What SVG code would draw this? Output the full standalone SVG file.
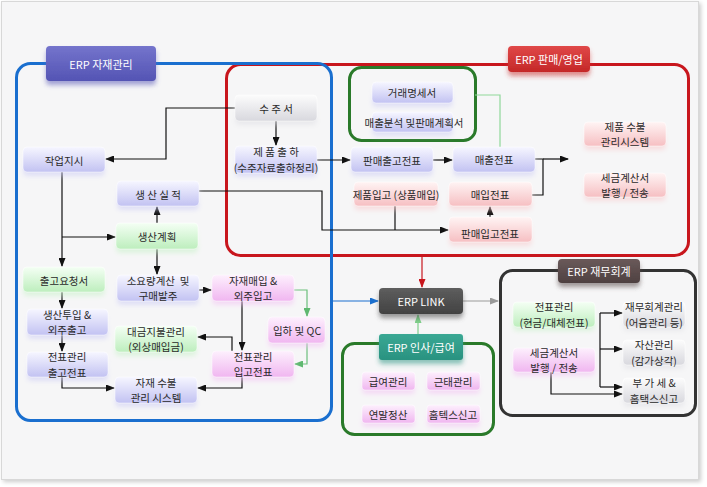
<svg xmlns="http://www.w3.org/2000/svg" width="707" height="487" viewBox="0 0 707 487">
<defs>
<linearGradient id="gB" x1="0" y1="0" x2="0" y2="1"><stop offset="0" stop-color="#f6f6ff"/><stop offset="1" stop-color="#c2c2f2"/></linearGradient>
<linearGradient id="gG" x1="0" y1="0" x2="0" y2="1"><stop offset="0" stop-color="#f4fff4"/><stop offset="1" stop-color="#bdeebd"/></linearGradient>
<linearGradient id="gR" x1="0" y1="0" x2="0" y2="1"><stop offset="0" stop-color="#fff4f4"/><stop offset="1" stop-color="#f6bfc2"/></linearGradient>
<linearGradient id="gM" x1="0" y1="0" x2="0" y2="1"><stop offset="0" stop-color="#fdf0fd"/><stop offset="1" stop-color="#f0b6f0"/></linearGradient>
<linearGradient id="gK" x1="0" y1="0" x2="0" y2="1"><stop offset="0" stop-color="#fcfcfc"/><stop offset="1" stop-color="#d8d8de"/></linearGradient>
<linearGradient id="lP" x1="0" y1="0" x2="0" y2="1"><stop offset="0" stop-color="#7474cc"/><stop offset="1" stop-color="#5454b4"/></linearGradient>
<linearGradient id="lR" x1="0" y1="0" x2="0" y2="1"><stop offset="0" stop-color="#e04848"/><stop offset="1" stop-color="#c42828"/></linearGradient>
<linearGradient id="lT" x1="0" y1="0" x2="0" y2="1"><stop offset="0" stop-color="#3aa894"/><stop offset="1" stop-color="#2a9280"/></linearGradient>
<linearGradient id="lK" x1="0" y1="0" x2="0" y2="1"><stop offset="0" stop-color="#5e5e5e"/><stop offset="1" stop-color="#424242"/></linearGradient>
<linearGradient id="lD" x1="0" y1="0" x2="0" y2="1"><stop offset="0" stop-color="#6a5a5a"/><stop offset="1" stop-color="#4e4040"/></linearGradient>
<filter id="sh" x="-20%" y="-30%" width="140%" height="180%">
<feGaussianBlur in="SourceGraphic" stdDeviation="2.5" result="b"/>
<feOffset in="b" dy="4" result="o"/>
<feComponentTransfer in="o" result="t"><feFuncA type="linear" slope="0.55"/></feComponentTransfer>
<feMerge><feMergeNode in="t"/><feMergeNode in="SourceGraphic"/></feMerge>
</filter>
<filter id="pshadow" x="-5%" y="-5%" width="110%" height="110%">
<feGaussianBlur in="SourceAlpha" stdDeviation="2"/><feOffset dx="2" dy="2"/><feComponentTransfer><feFuncA type="linear" slope="0.2"/></feComponentTransfer>
<feMerge><feMergeNode/><feMergeNode in="SourceGraphic"/></feMerge>
</filter>
<marker id="aK" markerUnits="userSpaceOnUse" markerWidth="9" markerHeight="7" refX="8" refY="3.5" orient="auto"><path d="M0,0 L9,3.5 L0,7 z" fill="#111"/></marker>
<marker id="aB" markerUnits="userSpaceOnUse" markerWidth="9" markerHeight="7" refX="8" refY="3.5" orient="auto"><path d="M0,0 L9,3.5 L0,7 z" fill="#1a6fcf"/></marker>
<marker id="aR" markerUnits="userSpaceOnUse" markerWidth="9" markerHeight="7" refX="8" refY="3.5" orient="auto"><path d="M0,0 L9,3.5 L0,7 z" fill="#c8161d"/></marker>
<marker id="aG" markerUnits="userSpaceOnUse" markerWidth="9" markerHeight="7" refX="8" refY="3.5" orient="auto"><path d="M0,0 L9,3.5 L0,7 z" fill="#5fb870"/></marker>
<marker id="aL" markerUnits="userSpaceOnUse" markerWidth="9" markerHeight="7" refX="8" refY="3.5" orient="auto"><path d="M0,0 L9,3.5 L0,7 z" fill="#7fd08a"/></marker>
<marker id="aY" markerUnits="userSpaceOnUse" markerWidth="9" markerHeight="7" refX="8" refY="3.5" orient="auto"><path d="M0,0 L9,3.5 L0,7 z" fill="#999"/></marker>
</defs>
<style>
text{font-family:"Noto Sans CJK KR","Noto Sans",sans-serif;font-size:10.5px;fill:#2a2a2a;text-anchor:middle;dominant-baseline:central}
.lbl text{fill:#fff;font-size:11px}
.n rect{stroke:rgba(255,255,255,0.8);stroke-width:0.6}
.b rect{fill:url(#gB)} .g rect{fill:url(#gG)} .r rect{fill:url(#gR)} .m rect{fill:url(#gM)} .k rect{fill:url(#gK)}
.c path{fill:none;stroke:#111;stroke-width:1.2}
.cont{fill:none;stroke-width:3}
</style>
<rect x="0" y="0" width="707" height="487" fill="#ffffff"/>
<rect x="1.5" y="1.5" width="697" height="478" fill="#f6f6f7" stroke="#d8d8d8" filter="url(#pshadow)"/>

<g id="containers">
<rect class="cont" x="226.5" y="64.5" width="462" height="191" rx="14" stroke="#c8161d"/>
<rect class="cont" x="16.5" y="63.5" width="315" height="357" rx="14" stroke="#1a6fcf"/>
<rect class="cont" x="349.5" y="67.5" width="126" height="73" rx="12" stroke="#2a7a2a"/>
<rect class="cont" x="342.5" y="343.5" width="151" height="91" rx="12" stroke="#2a7a2a"/>
<rect class="cont" x="500.5" y="270.5" width="195" height="145" rx="12" stroke="#333"/>
</g>

<g id="connectors" class="c">
<path d="M276,121 V145" marker-end="url(#aK)"/>
<path d="M235,108 H166 V159 H106" marker-end="url(#aK)"/>
<path d="M317,160 H350" marker-end="url(#aK)"/>
<path d="M433,160 H452" marker-end="url(#aK)"/>
<path d="M535,159 H543 V195 H532"/>
<path d="M543,159 H568" marker-end="url(#aK)"/>
<path d="M199,191 H322 V230 H448" marker-end="url(#aK)"/>
<path d="M395,206 V230"/>
<path d="M490,217 V207" marker-end="url(#aK)"/>
<path d="M475,95 H500 V147" style="stroke:#8fd89a;stroke-width:1.2"/>
<path d="M62,172 V266" marker-end="url(#aK)"/>
<path d="M62,237 H115" marker-end="url(#aK)"/>
<path d="M157,223 V207" marker-end="url(#aK)"/>
<path d="M157,249 V274" marker-end="url(#aK)"/>
<path d="M199,290 H211" marker-end="url(#aK)"/>
<path d="M294,290 H307 V316" marker-end="url(#aG)" style="stroke:#6cbf7c"/>
<path d="M307,343 V364 H295" marker-end="url(#aG)" style="stroke:#6cbf7c"/>
<path d="M242,301 V350" marker-end="url(#aK)"/>
<path d="M232,351 V337 H198" marker-end="url(#aK)"/>
<path d="M242,377 V388 H198" marker-end="url(#aK)"/>
<path d="M62,292 V308" marker-end="url(#aK)"/>
<path d="M62,335 V351" marker-end="url(#aK)"/>
<path d="M62,377 V388 H114" marker-end="url(#aK)"/>
<path d="M422,256 V287" marker-end="url(#aR)" style="stroke:#c8161d"/>
<path d="M331,301 H378" marker-end="url(#aB)" style="stroke:#1a6fcf"/>
<path d="M463,301 H498" marker-end="url(#aY)" style="stroke:#999"/>
<path d="M418,334 V315" marker-end="url(#aL)" style="stroke:#7fd08a"/>
<path d="M600,313 V387"/>
<path d="M600,313 H622" marker-end="url(#aK)"/>
<path d="M600,349 H622" marker-end="url(#aK)"/>
<path d="M600,387 H622" marker-end="url(#aK)"/>
<path d="M551,372 V394 H622" marker-end="url(#aK)"/>
</g>

<g id="lbl-material" class="lbl"><rect x="46" y="46" width="110" height="35" rx="4" fill="url(#lP)" filter="url(#sh)"/><text x="101" y="64">ERP 자재관리</text></g>
<g id="lbl-sales" class="lbl"><rect x="508" y="46" width="82" height="26" rx="4" fill="url(#lR)" filter="url(#sh)"/><text x="549" y="59">ERP 판매/영업</text></g>
<g id="lbl-link" class="lbl"><rect x="379" y="288" width="84" height="26" rx="4" fill="url(#lK)" filter="url(#sh)"/><text x="421" y="301">ERP LINK</text></g>
<g id="lbl-hr" class="lbl"><rect x="379" y="334" width="84" height="26" rx="3" fill="url(#lT)" filter="url(#sh)"/><text x="421" y="347">ERP 인사/급여</text></g>
<g id="lbl-fin" class="lbl"><rect x="558" y="259" width="82" height="24" rx="4" fill="url(#lD)" filter="url(#sh)"/><text x="599" y="271">ERP 재무회계</text></g>

<g id="n-jakup" class="n b"><rect x="23" y="147" width="82" height="25" rx="4" filter="url(#sh)"/><text x="64" y="160">작업지시</text></g>
<g id="n-silj" class="n b"><rect x="117" y="181" width="82" height="25" rx="4" filter="url(#sh)"/><text x="158" y="194">생 산 실 적</text></g>
<g id="n-gyehoek" class="n g"><rect x="116" y="223" width="82" height="26" rx="4" filter="url(#sh)"/><text x="157" y="236">생산계획</text></g>
<g id="n-chulgoyo" class="n g"><rect x="23" y="267" width="82" height="25" rx="4" filter="url(#sh)"/><text x="64" y="280">출고요청서</text></g>
<g id="n-soyo" class="n b"><rect x="117" y="275" width="82" height="26" rx="4" filter="url(#sh)"/><text x="158" y="280.3" xml:space="preserve">소요량계산  및</text><text x="158" y="295.7">구매발주</text></g>
<g id="n-jajae" class="n m"><rect x="212" y="275" width="82" height="26" rx="4" filter="url(#sh)"/><text x="253" y="280.3">자재매입 &amp;</text><text x="253" y="295.7">외주입고</text></g>
<g id="n-tuip" class="n b"><rect x="27" y="309" width="81" height="26" rx="4" filter="url(#sh)"/><text x="67" y="314.3">생산투입 &amp;</text><text x="67" y="329.7">외주출고</text></g>
<g id="n-daegeum" class="n g"><rect x="115" y="326" width="82" height="26" rx="4" filter="url(#sh)"/><text x="156" y="331.3">대금지불관리</text><text x="156" y="346.7">(외상매입금)</text></g>
<g id="n-ipha" class="n m"><rect x="268" y="317" width="57" height="26" rx="4" filter="url(#sh)"/><text x="297" y="330">입하 및 QC</text></g>
<g id="n-chulgojp" class="n b"><rect x="27" y="352" width="81" height="25" rx="4" filter="url(#sh)"/><text x="67" y="356.8">전표관리</text><text x="67" y="372.2">출고전표</text></g>
<g id="n-ipgojp" class="n m"><rect x="212" y="351" width="82" height="26" rx="4" filter="url(#sh)"/><text x="253" y="356.3">전표관리</text><text x="253" y="371.7">입고전표</text></g>
<g id="n-subul" class="n b"><rect x="115" y="377" width="82" height="26" rx="4" filter="url(#sh)"/><text x="156" y="382.3">자재 수불</text><text x="156" y="397.7">관리 시스템</text></g>

<g id="n-suju" class="n k"><rect x="235" y="95" width="82" height="26" rx="4" filter="url(#sh)"/><text x="276" y="108">수 주 서</text></g>
<g id="n-chulha" class="n b"><rect x="235" y="146" width="82" height="27" rx="4" filter="url(#sh)"/><text x="276" y="151.8">제 품 출 하</text><text x="276" y="167.2">(수주자료출하정리)</text></g>
<g id="n-georae" class="n b"><rect x="372" y="82" width="81" height="21" rx="4" filter="url(#sh)"/><text x="412" y="92">거래명세서</text></g>
<g id="n-bunseok" class="n b"><rect x="372" y="112" width="81" height="20" rx="4" filter="url(#sh)"/><text x="414" y="122">매출분석 및판매계획서</text></g>
<g id="n-panchul" class="n b"><rect x="351" y="147" width="82" height="25" rx="4" filter="url(#sh)"/><text x="392" y="160">판매출고전표</text></g>
<g id="n-maechul" class="n b"><rect x="453" y="147" width="82" height="25" rx="4" filter="url(#sh)"/><text x="494" y="159">매출전표</text></g>
<g id="n-jepumipgo" class="n r"><rect x="354" y="182" width="84" height="24" rx="4" filter="url(#sh)"/><text x="396" y="194">제품입고 (상품매입)</text></g>
<g id="n-maeip" class="n r"><rect x="449" y="182" width="83" height="24" rx="4" filter="url(#sh)"/><text x="490" y="194">매입전표</text></g>
<g id="n-panipgo" class="n r"><rect x="449" y="217" width="83" height="25" rx="4" filter="url(#sh)"/><text x="490" y="233">판매입고전표</text></g>
<g id="n-jepumsubul" class="n r"><rect x="584" y="122" width="82" height="24" rx="4" filter="url(#sh)"/><text x="625" y="126.3">제품 수불</text><text x="625" y="141.7">관리시스템</text></g>
<g id="n-segeum1" class="n r"><rect x="584" y="173" width="82" height="24" rx="4" filter="url(#sh)"/><text x="625" y="177.3">세금계산서</text><text x="625" y="192.7">발행 / 전송</text></g>

<g id="n-geupyeo" class="n m"><rect x="362" y="372" width="53" height="18" rx="3" filter="url(#sh)"/><text x="388" y="381">급여관리</text></g>
<g id="n-geuntae" class="n m"><rect x="427" y="372" width="53" height="18" rx="3" filter="url(#sh)"/><text x="453" y="381">근태관리</text></g>
<g id="n-yeonmal" class="n m"><rect x="362" y="405" width="53" height="18" rx="3" filter="url(#sh)"/><text x="388" y="414">연말정산</text></g>
<g id="n-hometax" class="n m"><rect x="427" y="405" width="53" height="18" rx="3" filter="url(#sh)"/><text x="453" y="414">홈텍스신고</text></g>

<g id="n-jeonpyo" class="n g"><rect x="513" y="302" width="82" height="25" rx="4" filter="url(#sh)"/><text x="554" y="306.8">전표관리</text><text x="554" y="322.2">(현금/대체전표)</text></g>
<g id="n-segeum2" class="n m"><rect x="513" y="348" width="82" height="24" rx="4" filter="url(#sh)"/><text x="554" y="352.3">세금계산서</text><text x="554" y="367.7">발행 / 전송</text></g>
<g id="n-jaemu" class="n k"><rect x="623" y="302" width="62" height="25" rx="4" filter="url(#sh)"/><text x="654" y="306.8">재무회계관리</text><text x="654" y="322.2">(어음관리 등)</text></g>
<g id="n-jasan" class="n k"><rect x="623" y="340" width="62" height="25" rx="4" filter="url(#sh)"/><text x="654" y="344.8">자산관리</text><text x="654" y="360.2">(감가상각)</text></g>
<g id="n-bugase" class="n k"><rect x="623" y="378" width="62" height="25" rx="4" filter="url(#sh)"/><text x="654" y="382.8">부 가 세 &amp;</text><text x="654" y="398.2">홈택스신고</text></g>
</svg>
